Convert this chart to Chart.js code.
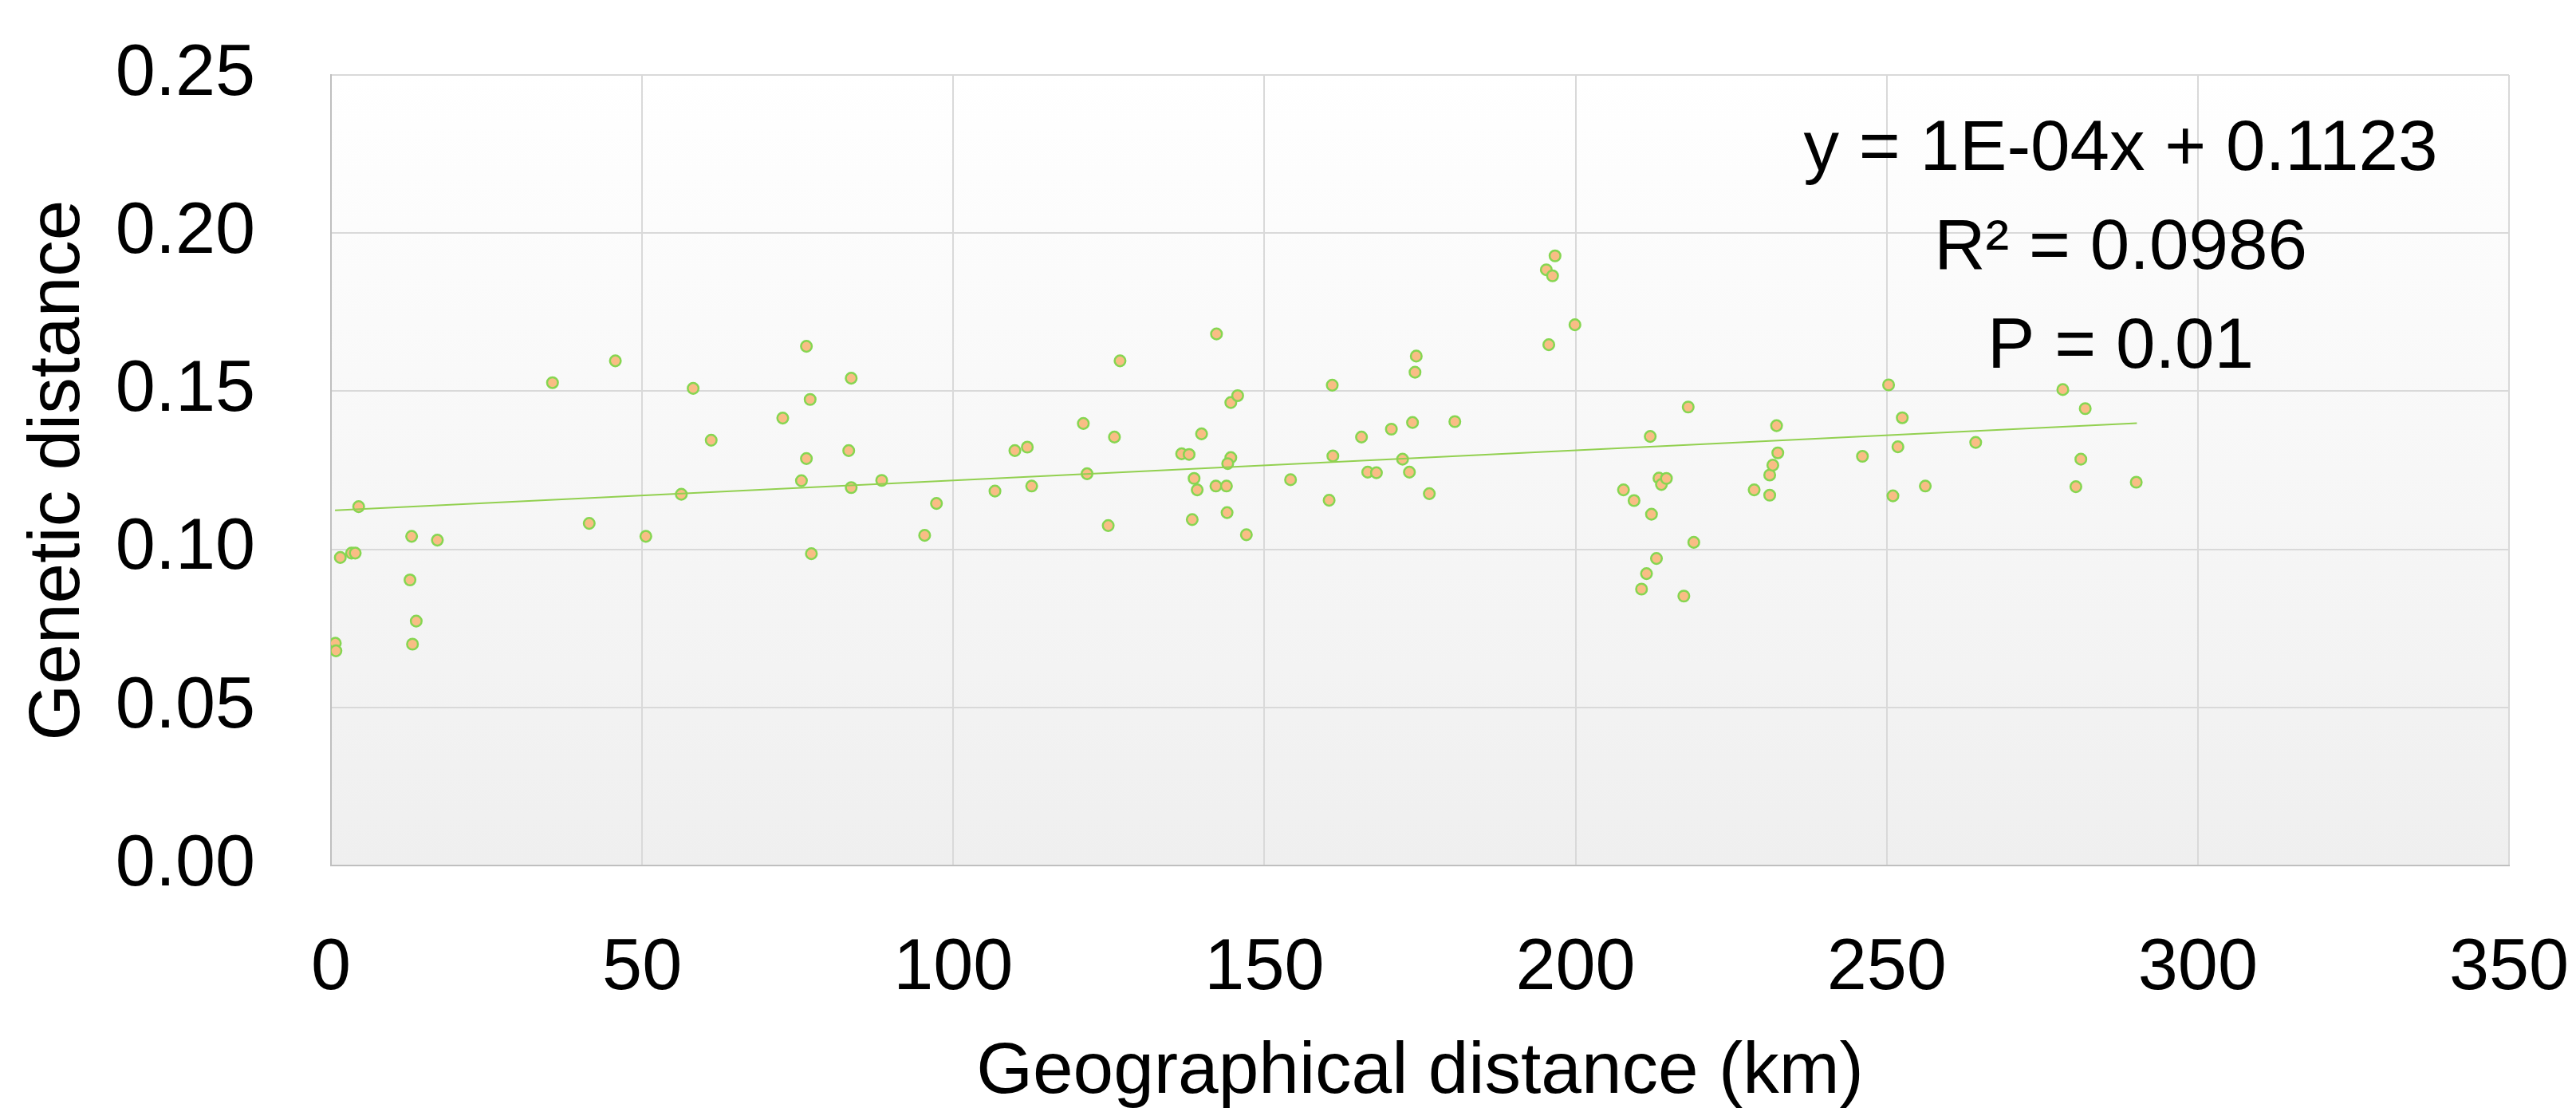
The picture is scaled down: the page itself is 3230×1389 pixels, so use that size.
<!DOCTYPE html>
<html><head><meta charset="utf-8">
<script src="https://cdn.jsdelivr.net/npm/chart.js@4.4.0/dist/chart.umd.min.js"></script>
<style>html,body{margin:0;padding:0;background:#fff;overflow:hidden;}canvas{display:block;}</style>
</head><body>
<canvas id="c" width="3230" height="1420"></canvas>
<script>
// ---- data ----
const geoDistanceKm = [
  4.45, 1.5, 3.3, 3.9, 12.96, 17.1, 12.7, 13.7, 13.1, 0.7, 0.8,
  35.6, 45.7, 41.5, 50.6, 56.3, 58.2, 61.1, 72.6, 76.4, 77.0, 76.4, 75.6, 77.2,
  83.6, 83.2, 83.6, 88.5, 95.4, 97.3,
  106.7, 109.9, 111.9, 112.6, 120.9, 121.5, 125.9, 126.8, 124.9,
  136.7, 137.9, 139.9, 138.7, 139.2, 138.4, 142.3, 142.2, 143.9, 144.0,
  144.6, 145.7, 144.6, 144.1, 147.1, 154.2, 160.4, 160.9, 161.0,
  165.6, 166.6, 168.0, 170.4, 172.2, 173.3, 173.8, 174.2, 174.4, 176.5, 180.6,
  195.3, 196.3, 196.7, 195.7,
  199.9, 207.7, 209.4, 212.0, 212.2, 213.4, 213.8, 214.6, 218.1, 219.0,
  213.0, 211.4, 210.6, 217.4,
  228.7, 231.2, 231.2, 231.7, 232.5, 232.3,
  246.1, 250.3, 252.5, 251.8, 251.0, 256.2, 264.3,
  278.3, 281.9, 281.2, 280.4, 290.1
];
const geneticDistance = [
  0.1135, 0.0974, 0.0988, 0.0988, 0.1041, 0.1029, 0.0903, 0.0773, 0.0700, 0.0703, 0.0679,
  0.1527, 0.1596, 0.1082, 0.1041, 0.1174, 0.1509, 0.1345, 0.1415, 0.1642, 0.1474, 0.1287, 0.1217, 0.0986,
  0.1541, 0.1312, 0.1195, 0.1218, 0.1044, 0.1145,
  0.1184, 0.1312, 0.1323, 0.1200, 0.1398, 0.1239, 0.1355, 0.1596, 0.1075,
  0.1302, 0.1300, 0.1365, 0.1224, 0.1188, 0.1094, 0.1681, 0.1200, 0.1200, 0.1116,
  0.1464, 0.1486, 0.1290, 0.1271, 0.1046, 0.1220, 0.1155, 0.1519, 0.1295,
  0.1355, 0.1244, 0.1242, 0.1380, 0.1285, 0.1244, 0.1401, 0.1560, 0.1611, 0.1176, 0.1404,
  0.1884, 0.1865, 0.1928, 0.1647,
  0.1710, 0.1188, 0.1154, 0.1357, 0.1111, 0.1225, 0.1205, 0.1224, 0.1450, 0.1022,
  0.0971, 0.0923, 0.0874, 0.0852,
  0.1188, 0.1171, 0.1235, 0.1266, 0.1305, 0.1391,
  0.1294, 0.1520, 0.1416, 0.1324, 0.1169, 0.1200, 0.1338,
  0.1505, 0.1445, 0.1285, 0.1198, 0.1212
];
// linear trend line (y = 1E-04x + 0.1123), from first to last x
const trendX = [0.65, 290.2];
const trendY = [0.1123, 0.1399];

const xTickValues = [0, 50, 100, 150, 200, 250, 300, 350];
const yTickValues = [0, 0.05, 0.10, 0.15, 0.20, 0.25];
const yTickLabels = ['0.00', '0.05', '0.10', '0.15', '0.20', '0.25'];
const xTitle = 'Geographical distance (km)';
const yTitle = 'Genetic distance';
const annotationLines = ['y = 1E-04x + 0.1123', 'R\u00B2 = 0.0986', 'P = 0.01'];
const annotationX = 287.6;
const annotationY = [0.2262, 0.1950, 0.1635];

// ---- chart ----
const FONT = "'Liberation Sans', Arial, sans-serif";
Chart.defaults.font.family = FONT;
Chart.defaults.color = '#000';

const plotBg = {
  id: 'plotBg',
  beforeDraw(chart) {
    const {ctx, chartArea: a} = chart;
    ctx.save();
    ctx.fillStyle = '#ffffff';
    ctx.fillRect(0, 0, chart.width, chart.height);
    const g = ctx.createLinearGradient(0, a.top, 0, a.bottom);
    g.addColorStop(0, '#ffffff');
    g.addColorStop(1, '#efefef');
    ctx.fillStyle = g;
    ctx.fillRect(a.left, a.top, a.right - a.left, a.bottom - a.top);
    ctx.restore();
  }
};

const annot = {
  id: 'annot',
  afterDatasetsDraw(chart) {
    const {ctx, scales} = chart;
    ctx.save();
    ctx.fillStyle = '#000';
    ctx.font = '89px ' + FONT;
    ctx.textAlign = 'center';
    ctx.textBaseline = 'middle';
    annotationLines.forEach((t, i) => {
      ctx.fillText(t, scales.x.getPixelForValue(annotationX), scales.y.getPixelForValue(annotationY[i]));
    });
    ctx.restore();
  }
};

new Chart(document.getElementById('c'), {
  type: 'scatter',
  data: {
    datasets: [
      {
        label: 'trend',
        data: trendX.map((x, i) => ({x, y: trendY[i]})),
        showLine: true,
        borderColor: '#92D050',
        borderWidth: 2,
        pointRadius: 0,
        fill: false,
        order: 0
      },
      {
        label: 'pairs',
        data: geoDistanceKm.map((x, i) => ({x, y: geneticDistance[i]})),
        backgroundColor: '#F9BD85',
        borderColor: '#86D651',
        borderWidth: 2.5,
        pointRadius: 6.8,
        order: 1
      }
    ]
  },
  options: {
    responsive: false,
    animation: false,
    devicePixelRatio: 1,
    layout: {padding: {top: 94, right: 84, bottom: 0, left: 0}},
    plugins: {legend: {display: false}, tooltip: {enabled: false}},
    scales: {
      x: {
        type: 'linear', min: 0, max: 350,
        afterBuildTicks: s => { s.ticks = xTickValues.map(v => ({value: v})); },
        afterFit: s => { s.height = 335; s.paddingLeft = 0; s.paddingRight = 0; },
        ticks: {font: {size: 90, lineHeight: 1.2}, color: '#000', padding: 76, maxRotation: 0, autoSkip: false},
        grid: {color: '#d9d9d9', lineWidth: 2, drawTicks: false},
        border: {display: true, color: '#bfbfbf', width: 2},
        title: {display: true, text: xTitle, color: '#000', font: {size: 91, lineHeight: 1.2}, padding: {top: 0, bottom: 20}}
      },
      y: {
        type: 'linear', min: 0, max: 0.25,
        afterBuildTicks: s => { s.ticks = yTickValues.map(v => ({value: v})); },
        afterFit: s => { s.width = 415; s.paddingTop = 0; s.paddingBottom = 0; },
        ticks: {font: {size: 90, lineHeight: 1.2}, color: '#000', padding: 95, autoSkip: false,
          callback: (v, i) => yTickLabels[i]},
        grid: {color: '#d9d9d9', lineWidth: 2, drawTicks: false},
        border: {display: true, color: '#bfbfbf', width: 2},
        title: {display: true, text: yTitle, color: '#000', font: {size: 91, lineHeight: 1.2}, padding: {top: 19, bottom: 0}}
      }
    }
  },
  plugins: [plotBg, annot]
});
</script>
</body></html>
